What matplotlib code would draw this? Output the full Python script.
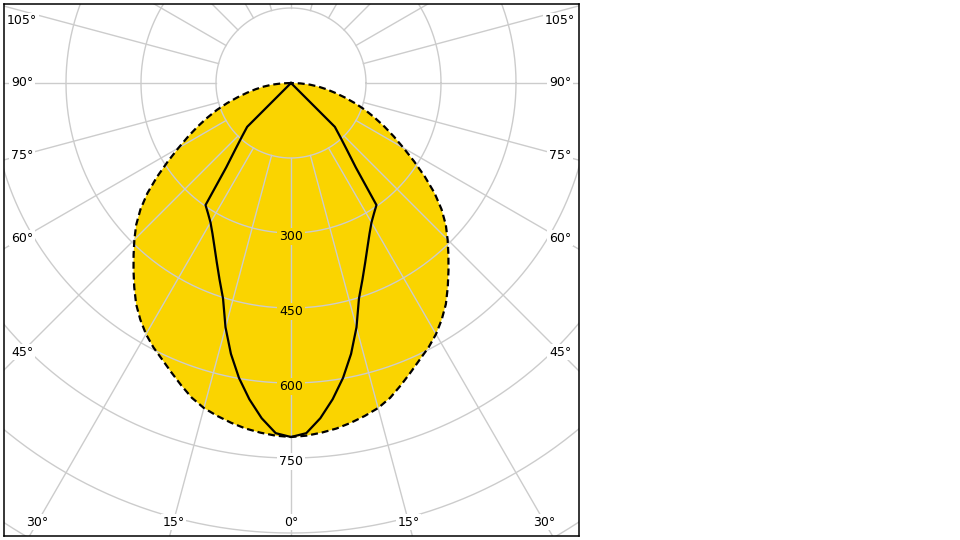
import numpy as np
import matplotlib
matplotlib.use("Agg")
import matplotlib.pyplot as plt

# ---- data (cd/klm) vs. gamma angle in degrees, symmetric distributions ----
gamma = [0, 2.5, 5, 7.5, 10, 12.5, 15, 17.5, 20, 22.5, 25, 27.5, 30, 32.5, 35, 37.5,
         40, 42.5, 45, 47.5, 50, 52.5, 55, 57.5, 60, 62.5, 65, 67.5, 70, 72.5, 75,
         77.5, 80, 82.5, 85, 87.5, 90]
plane_dashed = [708, 706, 702, 697, 690, 682, 673, 660, 643, 626, 610, 596, 580, 561,
                540, 515, 490, 466, 443, 420, 393, 362, 327, 292, 260, 232, 206, 181,
                158, 134, 111, 90, 72, 55, 38, 19, 0]
plane_solid = [708, 701, 673, 638, 599, 555, 506, 452, 418, 388, 362, 340, 322, 309,
               298, 213, 173, 145, 124, 0, 0, 0, 0, 0, 0, 0, 0, 0, 0, 0, 0, 0, 0, 0,
               0, 0, 0]

ring_values = [150, 300, 450, 600, 750, 900, 1050]
ring_labels = [300, 450, 600, 750]
angle_labels = [0, 15, 30, 45, 60, 75, 90, 105]
spoke_angles = list(range(0, 360, 15))

YELLOW = "#FAD400"
GRID = "#cccccc"

plt.rcParams["font.family"] = ["DejaVu Sans"]
plt.rcParams["lines.scale_dashes"] = False


def to_xy(theta_deg, r):
    t = np.radians(np.asarray(theta_deg, dtype=float))
    r = np.asarray(r, dtype=float)
    return r * np.sin(t), -r * np.cos(t)


def full_curve(vals):
    g = np.array(gamma, dtype=float)
    v = np.array(vals, dtype=float)
    th = np.concatenate([-g[::-1], g[1:]])
    rr = np.concatenate([v[::-1], v[1:]])
    return to_xy(th, rr)


fig = plt.figure(figsize=(9.6, 5.4), dpi=100)
ax = fig.add_axes([4 / 960, 4 / 540, 575 / 960, 532 / 540])
ax.set_xlim(-574, 576)
ax.set_ylim(-906, 158)
ax.set_xticks([])
ax.set_yticks([])
for s in ax.spines.values():
    s.set_linewidth(1.1)
    s.set_color("black")

# filled dashed distribution
xd, yd = full_curve(plane_dashed)
ax.fill(xd, yd, color=YELLOW, lw=0, zorder=1)

# grid circles
phi = np.linspace(0, 2 * np.pi, 721)
for rv in ring_values:
    ax.plot(rv * np.cos(phi), rv * np.sin(phi), color=GRID, lw=1.0, zorder=2)

# spokes from the first ring outward
for a in spoke_angles:
    x, y = to_xy([a, a], [ring_values[0], 1400])
    ax.plot(x, y, color=GRID, lw=1.0, zorder=2)

# radial value labels along 0 deg
for rv in ring_labels:
    inside = rv < plane_dashed[0]
    ax.text(0, -rv - 7, str(rv), ha="center", va="center", fontsize=9,
            color="black", zorder=3,
            bbox=dict(facecolor=YELLOW if inside else "white", edgecolor="none", pad=1.2))

# angle labels near the frame
XB, YB, YTOP = 538, 878, 124
for a in angle_labels:
    for sgn in ([1] if a == 0 else [-1, 1]):
        s = np.sin(np.radians(a))
        c = np.cos(np.radians(a))
        ts = []
        if c > 1e-9:
            ts.append(YB / c)
        if s > 1e-9:
            ts.append(XB / s)
        t = min(ts)
        x, y = sgn * t * s, min(-t * c, YTOP)
        ax.text(x, y, f"{a}°", ha="center", va="center", fontsize=9,
                color="black", zorder=3,
                bbox=dict(facecolor="white", edgecolor="none", pad=1.2))

# curves
ax.plot(xd, yd, color="black", lw=1.6, dashes=(5, 2.8), zorder=4)
xs, ys = full_curve(plane_solid)
ax.plot(xs, ys, color="black", lw=1.6, zorder=4, solid_joinstyle="round")

fig.savefig("out.png", dpi=100)
